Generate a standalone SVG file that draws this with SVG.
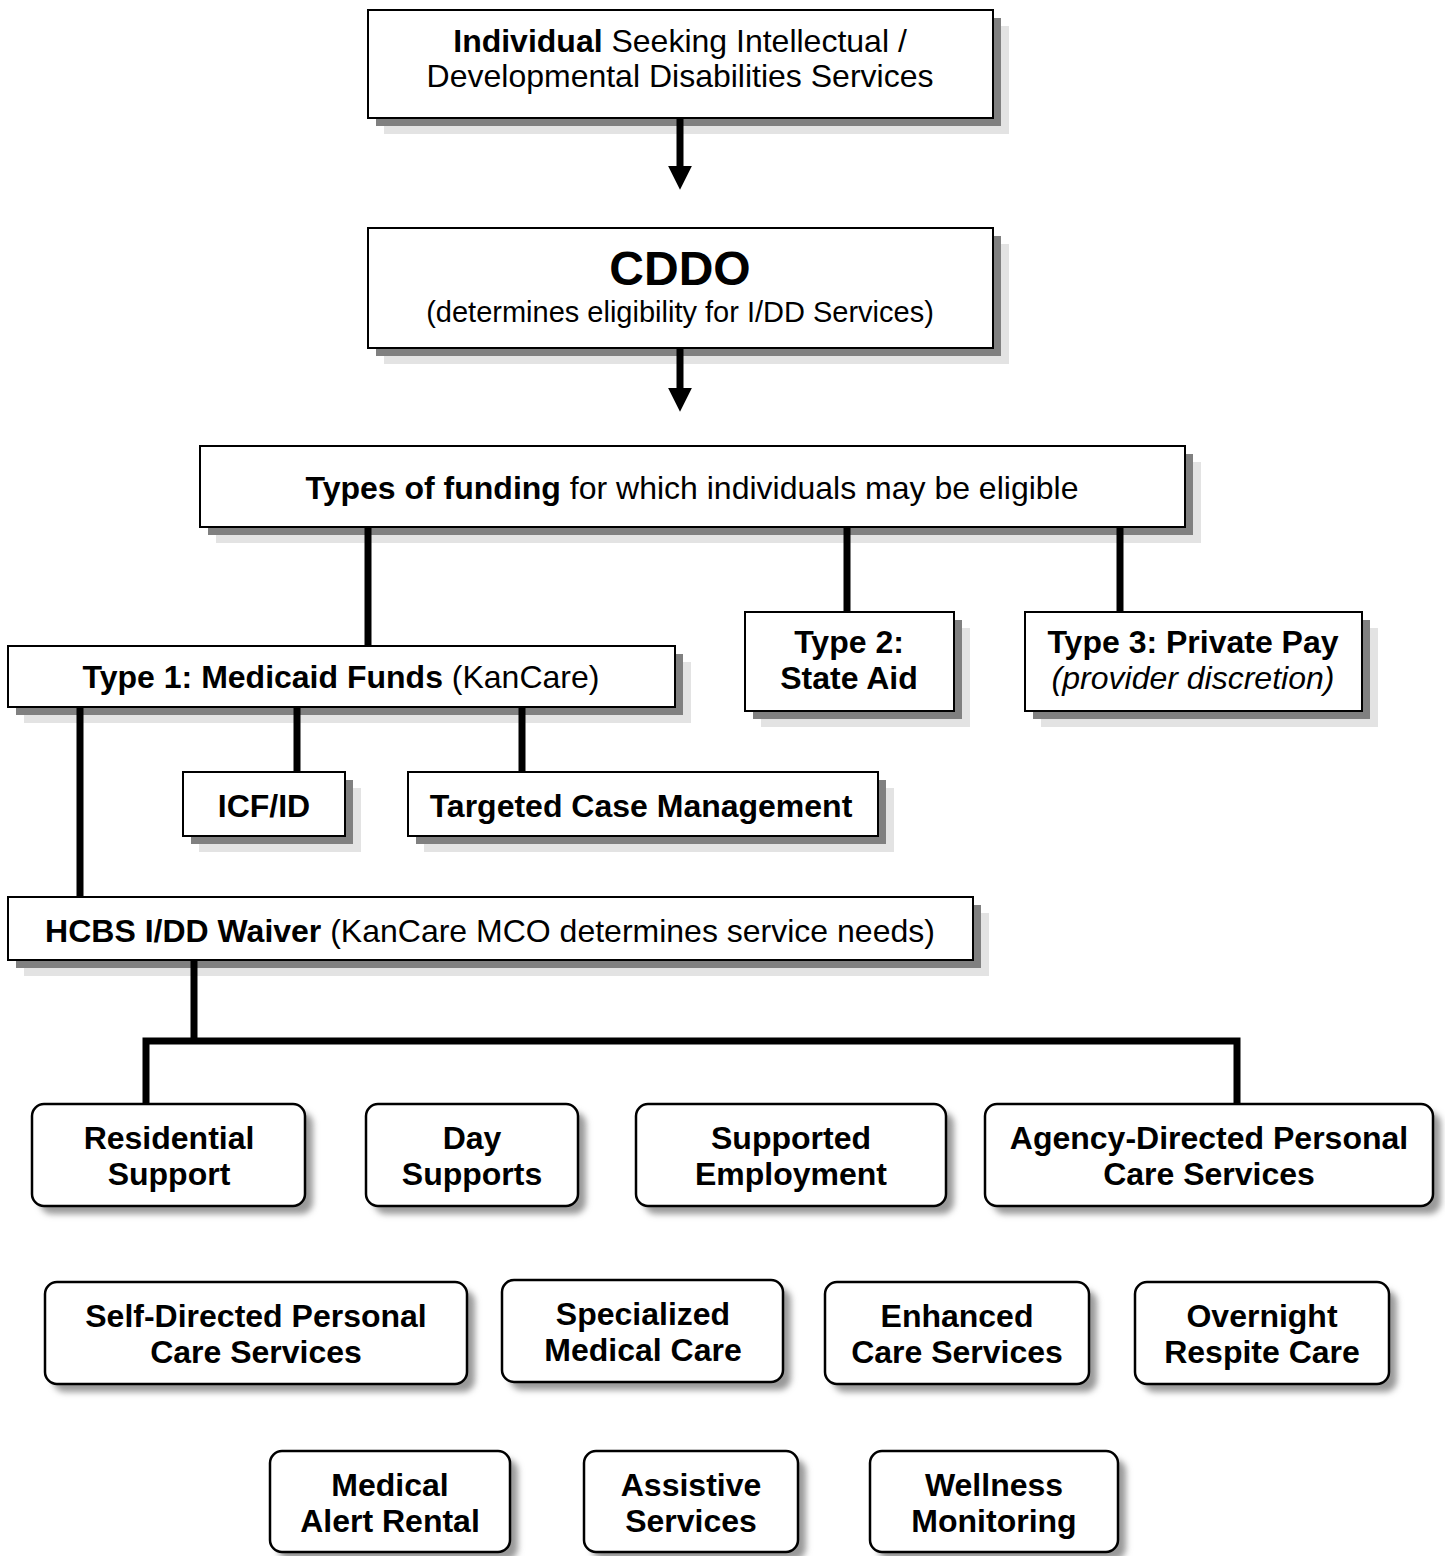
<svg xmlns="http://www.w3.org/2000/svg" width="1445" height="1556" viewBox="0 0 1445 1556">
<style>
  text { font-family: "Liberation Sans", Arial, sans-serif; fill: #000; text-anchor: middle; }
  .t { font-size: 32px; }
  .b { font-weight: bold; }
  .box { fill: #fff; stroke: #000; stroke-width: 2; }
  .sh1 { fill: #e3e3e3; }
  .sh2 { fill: #808080; }
  .rbox { fill: #fff; stroke: #000; stroke-width: 2.5; }
  .rsh { fill: #999; filter: url(#blur); }
  .conn { stroke: #000; stroke-width: 7; fill: none; }
</style>
<defs>
  <filter id="blur" x="-10%" y="-10%" width="130%" height="140%">
    <feGaussianBlur stdDeviation="3"/>
  </filter>
  <marker id="ah" markerWidth="3.4" markerHeight="3.4" refX="0" refY="2" orient="auto" markerUnits="strokeWidth" viewBox="0 0 4 4">
    <path d="M0,0 L4,2 L0,4 Z" fill="#000"/>
  </marker>
</defs>

<g id="n-individual">
  <rect class="sh1" x="384" y="26" width="625" height="108"/>
  <rect class="sh2" x="376" y="18" width="625" height="108"/>
  <rect class="box" x="368" y="10" width="625" height="108"/>
  <text class="t" x="680" y="52"><tspan class="b">Individual</tspan> Seeking Intellectual /</text>
  <text class="t" x="680" y="87">Developmental Disabilities Services</text>
</g>

<g id="n-cddo">
  <rect class="sh1" x="384" y="244" width="625" height="120"/>
  <rect class="sh2" x="376" y="236" width="625" height="120"/>
  <rect class="box" x="368" y="228" width="625" height="120"/>
  <text class="b" x="680" y="285" font-size="48">CDDO</text>
  <text x="680" y="322" font-size="29">(determines eligibility for I/DD Services)</text>
</g>

<g id="n-types">
  <rect class="sh1" x="216" y="462" width="985" height="81"/>
  <rect class="sh2" x="208" y="454" width="985" height="81"/>
  <rect class="box" x="200" y="446" width="985" height="81"/>
  <text class="t" x="692" y="499"><tspan class="b">Types of funding</tspan> for which individuals may be eligible</text>
</g>

<g id="n-type1">
  <rect class="sh1" x="24" y="662" width="667" height="61"/>
  <rect class="sh2" x="16" y="654" width="667" height="61"/>
  <rect class="box" x="8" y="646" width="667" height="61"/>
  <text class="t" x="341" y="688"><tspan class="b">Type 1: Medicaid Funds</tspan> (KanCare)</text>
</g>

<g id="n-type2">
  <rect class="sh1" x="761" y="628" width="209" height="99"/>
  <rect class="sh2" x="753" y="620" width="209" height="99"/>
  <rect class="box" x="745" y="612" width="209" height="99"/>
  <text class="t b" x="849" y="653">Type 2:</text>
  <text class="t b" x="849" y="689">State Aid</text>
</g>

<g id="n-type3">
  <rect class="sh1" x="1041" y="628" width="337" height="99"/>
  <rect class="sh2" x="1033" y="620" width="337" height="99"/>
  <rect class="box" x="1025" y="612" width="337" height="99"/>
  <text class="t b" x="1193" y="653">Type 3: Private Pay</text>
  <text class="t" x="1193" y="689" font-style="italic">(provider discretion)</text>
</g>

<g id="n-icf">
  <rect class="sh1" x="199" y="788" width="162" height="64"/>
  <rect class="sh2" x="191" y="780" width="162" height="64"/>
  <rect class="box" x="183" y="772" width="162" height="64"/>
  <text class="t b" x="264" y="817">ICF/ID</text>
</g>

<g id="n-tcm">
  <rect class="sh1" x="424" y="788" width="470" height="64"/>
  <rect class="sh2" x="416" y="780" width="470" height="64"/>
  <rect class="box" x="408" y="772" width="470" height="64"/>
  <text class="t b" x="641" y="817">Targeted Case Management</text>
</g>

<g id="n-hcbs">
  <rect class="sh1" x="24" y="913" width="965" height="63"/>
  <rect class="sh2" x="16" y="905" width="965" height="63"/>
  <rect class="box" x="8" y="897" width="965" height="63"/>
  <text class="t" x="490" y="942"><tspan class="b">HCBS I/DD Waiver</tspan> (KanCare MCO determines service needs)</text>
</g>

<g id="n-residential">
  <rect class="rsh" x="40" y="1112" width="273" height="102" rx="12"/>
  <rect class="rbox" x="32" y="1104" width="273" height="102" rx="12"/>
  <text class="t b" x="169" y="1149">Residential</text>
  <text class="t b" x="169" y="1185">Support</text>
</g>

<g id="n-day">
  <rect class="rsh" x="374" y="1112" width="212" height="102" rx="12"/>
  <rect class="rbox" x="366" y="1104" width="212" height="102" rx="12"/>
  <text class="t b" x="472" y="1149">Day</text>
  <text class="t b" x="472" y="1185">Supports</text>
</g>

<g id="n-employment">
  <rect class="rsh" x="644" y="1112" width="310" height="102" rx="12"/>
  <rect class="rbox" x="636" y="1104" width="310" height="102" rx="12"/>
  <text class="t b" x="791" y="1149">Supported</text>
  <text class="t b" x="791" y="1185">Employment</text>
</g>

<g id="n-agency">
  <rect class="rsh" x="993" y="1112" width="448" height="102" rx="12"/>
  <rect class="rbox" x="985" y="1104" width="448" height="102" rx="12"/>
  <text class="t b" x="1209" y="1149">Agency-Directed Personal</text>
  <text class="t b" x="1209" y="1185">Care Services</text>
</g>

<g id="n-self">
  <rect class="rsh" x="53" y="1290" width="422" height="102" rx="12"/>
  <rect class="rbox" x="45" y="1282" width="422" height="102" rx="12"/>
  <text class="t b" x="256" y="1327">Self-Directed Personal</text>
  <text class="t b" x="256" y="1363">Care Services</text>
</g>

<g id="n-specialized">
  <rect class="rsh" x="510" y="1288" width="281" height="102" rx="12"/>
  <rect class="rbox" x="502" y="1280" width="281" height="102" rx="12"/>
  <text class="t b" x="643" y="1325">Specialized</text>
  <text class="t b" x="643" y="1361">Medical Care</text>
</g>

<g id="n-enhanced">
  <rect class="rsh" x="833" y="1290" width="264" height="102" rx="12"/>
  <rect class="rbox" x="825" y="1282" width="264" height="102" rx="12"/>
  <text class="t b" x="957" y="1327">Enhanced</text>
  <text class="t b" x="957" y="1363">Care Services</text>
</g>

<g id="n-overnight">
  <rect class="rsh" x="1143" y="1290" width="254" height="102" rx="12"/>
  <rect class="rbox" x="1135" y="1282" width="254" height="102" rx="12"/>
  <text class="t b" x="1262" y="1327">Overnight</text>
  <text class="t b" x="1262" y="1363">Respite Care</text>
</g>

<g id="n-medalert">
  <rect class="rsh" x="278" y="1459" width="240" height="101" rx="12"/>
  <rect class="rbox" x="270" y="1451" width="240" height="101" rx="12"/>
  <text class="t b" x="390" y="1496">Medical</text>
  <text class="t b" x="390" y="1532">Alert Rental</text>
</g>

<g id="n-assistive">
  <rect class="rsh" x="592" y="1459" width="214" height="101" rx="12"/>
  <rect class="rbox" x="584" y="1451" width="214" height="101" rx="12"/>
  <text class="t b" x="691" y="1496">Assistive</text>
  <text class="t b" x="691" y="1532">Services</text>
</g>

<g id="n-wellness">
  <rect class="rsh" x="878" y="1459" width="248" height="101" rx="12"/>
  <rect class="rbox" x="870" y="1451" width="248" height="101" rx="12"/>
  <text class="t b" x="994" y="1496">Wellness</text>
  <text class="t b" x="994" y="1532">Monitoring</text>
</g>

<g id="connectors">
  <line class="conn" x1="680" y1="119" x2="680" y2="166" marker-end="url(#ah)"/>
  <line class="conn" x1="680" y1="349" x2="680" y2="388" marker-end="url(#ah)"/>
  <line class="conn" x1="368" y1="528" x2="368" y2="645"/>
  <line class="conn" x1="847" y1="528" x2="847" y2="611"/>
  <line class="conn" x1="1120" y1="528" x2="1120" y2="611"/>
  <line class="conn" x1="80" y1="708" x2="80" y2="896"/>
  <line class="conn" x1="297" y1="708" x2="297" y2="771"/>
  <line class="conn" x1="522" y1="708" x2="522" y2="771"/>
  <polyline class="conn" points="194,961 194,1041"/>
  <polyline class="conn" points="146,1103 146,1041 1237,1041 1237,1103"/>
</g>
</svg>
